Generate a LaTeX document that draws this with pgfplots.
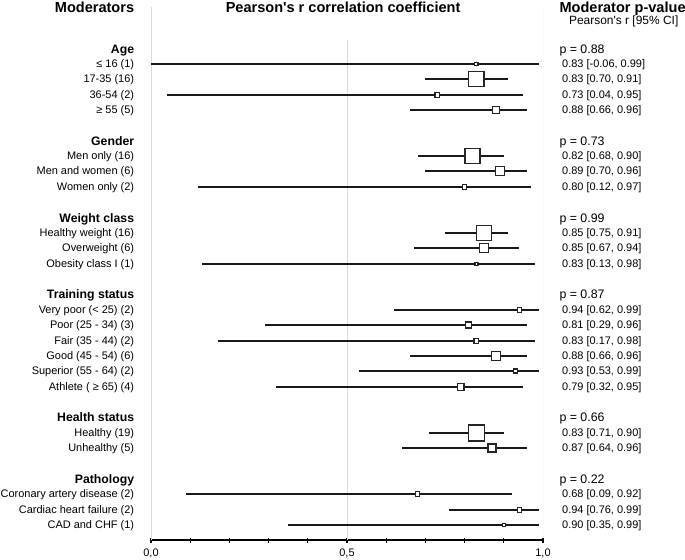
\documentclass[border=0pt]{standalone}
\usepackage{pgfplots}
\pgfplotsset{compat=1.18}
\usepackage{pgfplotstable}
\usepackage{fontspec}
\setmainfont{Liberation Sans}

% pos = vertical position of the row (distance from the top of the figure)
\pgfplotstableread{
pos r lo hi ms
64 0.83 -0.06 0.99 1.7
79 0.83 0.70 0.91 7.6
95 0.73 0.04 0.95 2.2
110 0.88 0.66 0.96 3.7
156 0.82 0.68 0.90 7.6
171 0.89 0.70 0.96 4.4
187 0.80 0.12 0.97 2.2
233 0.85 0.75 0.91 7.4
248 0.85 0.67 0.94 4.6
264 0.83 0.13 0.98 1.5
310 0.94 0.62 0.99 2.2
325 0.81 0.29 0.96 3.0
341 0.83 0.17 0.98 2.4
356 0.88 0.66 0.96 4.5
371 0.93 0.53 0.99 2.1
387 0.79 0.32 0.95 3.4
433 0.83 0.71 0.90 7.9
448 0.87 0.64 0.96 4.0
494 0.68 0.09 0.92 2.2
510 0.94 0.76 0.99 2.3
525 0.90 0.35 0.99 1.5
}\data

\tikzset{
  lab/.style={anchor=east, inner sep=0pt, font=\fontsize{11}{13}\selectfont, text height=7.9bp, text depth=0pt},
  hdr/.style={anchor=east, inner sep=0pt, font=\fontsize{12.3}{14}\selectfont\bfseries, text height=8.8bp, text depth=0pt},
  pv/.style={anchor=west, inner sep=0pt, font=\fontsize{12.4}{14}\selectfont, text height=8.9bp, text depth=0pt},
  ci/.style={anchor=west, inner sep=0pt, font=\fontsize{11}{13}\selectfont, text height=7.9bp, text depth=0pt},
  ttl/.style={inner sep=0pt, font=\fontsize{14.6}{17}\selectfont\bfseries, text height=10.5bp, text depth=0pt},
}

\begin{document}
\begin{tikzpicture}
\begin{axis}[
  scale only axis,
  width=392bp, height=533bp,
  xmin=0, xmax=1, ymin=-540, ymax=-7,
  enlargelimits=false,
  clip mode=individual,
  axis x line=bottom, axis y line=none,
  x axis line style={-, line width=2bp, black},
  xtick={0,0.5,1},
  minor xtick={0.1,0.2,0.3,0.4,0.6,0.7,0.8,0.9},
  tick align=center,
  major tick length=5bp, minor tick length=5bp,
  every tick/.style={black, line width=1.3bp},
  xticklabel style={font=\fontsize{11}{13}\selectfont, yshift=-2.5bp, /pgf/number format/.cd, use comma, fixed, fixed zerofill, precision=1, assume math mode=true},
  ytick=\empty,
]
% grid lines
\addplot[black!15, line width=1bp, forget plot] coordinates {(0,-7) (0,-540)};
\addplot[black!15, line width=1bp, forget plot] coordinates {(0.5,-40) (0.5,-540)};
\addplot[black!15, line width=1bp, forget plot] coordinates {(1,-7) (1,-540)};
% CI lines
\addplot[only marks, mark=none,
  error bars/.cd, x dir=both, x explicit, error mark=none,
  error bar style={line width=2bp, black!90}]
  table[x=r, y expr=-\thisrow{pos},
        x error plus expr=\thisrow{hi}-\thisrow{r},
        x error minus expr=\thisrow{r}-\thisrow{lo}] {\data};
% point estimates
\addplot[scatter, only marks, mark=square*,
  scatter/use mapped color={draw=black!85, fill=white},
  mark options={line width=1.3bp, rounded corners=1.5bp},
  visualization depends on={\thisrow{ms} \as \perpointmarksize},
  scatter/@pre marker code/.append style={/tikz/mark size=\perpointmarksize}]
  table[x=r, y expr=-\thisrow{pos}] {\data};

% titles
\node[ttl, anchor=east] at (axis cs:-0.0426,-7.5) {Moderators};
\node[ttl] at (axis cs:0.49,-7.5) {Pearson\textquotesingle s r correlation coefficient};
\node[ttl, anchor=west] at (axis cs:1.0416,-7.5) {Moderator p-value};
\node[pv, font=\fontsize{12}{14}\selectfont, anchor=west] at (axis cs:1.066,-20.5) {Pearson\textquotesingle s r [95\% CI]};

% headers
\node[hdr] at (axis cs:-0.0426,-49) {Age};
\node[hdr] at (axis cs:-0.0426,-141) {Gender};
\node[hdr] at (axis cs:-0.0426,-218) {Weight class};
\node[hdr] at (axis cs:-0.0426,-294) {Training status};
\node[hdr] at (axis cs:-0.0426,-417) {Health status};
\node[hdr] at (axis cs:-0.0426,-479) {Pathology};
\node[pv] at (axis cs:1.0416,-49) {p = 0.88};
\node[pv] at (axis cs:1.0416,-141) {p = 0.73};
\node[pv] at (axis cs:1.0416,-218) {p = 0.99};
\node[pv] at (axis cs:1.0416,-294) {p = 0.87};
\node[pv] at (axis cs:1.0416,-417) {p = 0.66};
\node[pv] at (axis cs:1.0416,-479) {p = 0.22};

% item labels
\node[lab] at (axis cs:-0.0426,-64) {≤ 16 (1)};
\node[lab] at (axis cs:-0.0426,-79) {17-35 (16)};
\node[lab] at (axis cs:-0.0426,-95) {36-54 (2)};
\node[lab] at (axis cs:-0.0426,-110) {≥ 55 (5)};
\node[lab] at (axis cs:-0.0426,-156) {Men only (16)};
\node[lab] at (axis cs:-0.0426,-171) {Men and women (6)};
\node[lab] at (axis cs:-0.0426,-187) {Women only (2)};
\node[lab] at (axis cs:-0.0426,-233) {Healthy weight (16)};
\node[lab] at (axis cs:-0.0426,-248) {Overweight (6)};
\node[lab] at (axis cs:-0.0426,-264) {Obesity class I (1)};
\node[lab] at (axis cs:-0.0426,-310) {Very poor (< 25) (2)};
\node[lab] at (axis cs:-0.0426,-325) {Poor (25 - 34) (3)};
\node[lab] at (axis cs:-0.0426,-341) {Fair (35 - 44) (2)};
\node[lab] at (axis cs:-0.0426,-356) {Good (45 - 54) (6)};
\node[lab] at (axis cs:-0.0426,-371) {Superior (55 - 64) (2)};
\node[lab] at (axis cs:-0.0426,-387) {Athlete ( ≥ 65) (4)};
\node[lab] at (axis cs:-0.0426,-433) {Healthy (19)};
\node[lab] at (axis cs:-0.0426,-448) {Unhealthy (5)};
\node[lab] at (axis cs:-0.0426,-494) {Coronary artery disease (2)};
\node[lab] at (axis cs:-0.0426,-510) {Cardiac heart failure (2)};
\node[lab] at (axis cs:-0.0426,-525) {CAD and CHF (1)};

% CI texts
\node[ci] at (axis cs:1.0485,-64) {0.83 [-0.06, 0.99]};
\node[ci] at (axis cs:1.0485,-79) {0.83 [0.70, 0.91]};
\node[ci] at (axis cs:1.0485,-95) {0.73 [0.04, 0.95]};
\node[ci] at (axis cs:1.0485,-110) {0.88 [0.66, 0.96]};
\node[ci] at (axis cs:1.0485,-156) {0.82 [0.68, 0.90]};
\node[ci] at (axis cs:1.0485,-171) {0.89 [0.70, 0.96]};
\node[ci] at (axis cs:1.0485,-187) {0.80 [0.12, 0.97]};
\node[ci] at (axis cs:1.0485,-233) {0.85 [0.75, 0.91]};
\node[ci] at (axis cs:1.0485,-248) {0.85 [0.67, 0.94]};
\node[ci] at (axis cs:1.0485,-264) {0.83 [0.13, 0.98]};
\node[ci] at (axis cs:1.0485,-310) {0.94 [0.62, 0.99]};
\node[ci] at (axis cs:1.0485,-325) {0.81 [0.29, 0.96]};
\node[ci] at (axis cs:1.0485,-341) {0.83 [0.17, 0.98]};
\node[ci] at (axis cs:1.0485,-356) {0.88 [0.66, 0.96]};
\node[ci] at (axis cs:1.0485,-371) {0.93 [0.53, 0.99]};
\node[ci] at (axis cs:1.0485,-387) {0.79 [0.32, 0.95]};
\node[ci] at (axis cs:1.0485,-433) {0.83 [0.71, 0.90]};
\node[ci] at (axis cs:1.0485,-448) {0.87 [0.64, 0.96]};
\node[ci] at (axis cs:1.0485,-494) {0.68 [0.09, 0.92]};
\node[ci] at (axis cs:1.0485,-510) {0.94 [0.76, 0.99]};
\node[ci] at (axis cs:1.0485,-525) {0.90 [0.35, 0.99]};

\coordinate (bbtl) at (axis cs:-0.3852,0);
\coordinate (bbbr) at (axis cs:1.3622,-559);
\end{axis}
\pgfresetboundingbox
\path[use as bounding box] (bbtl) rectangle (bbbr);
\end{tikzpicture}
\end{document}
